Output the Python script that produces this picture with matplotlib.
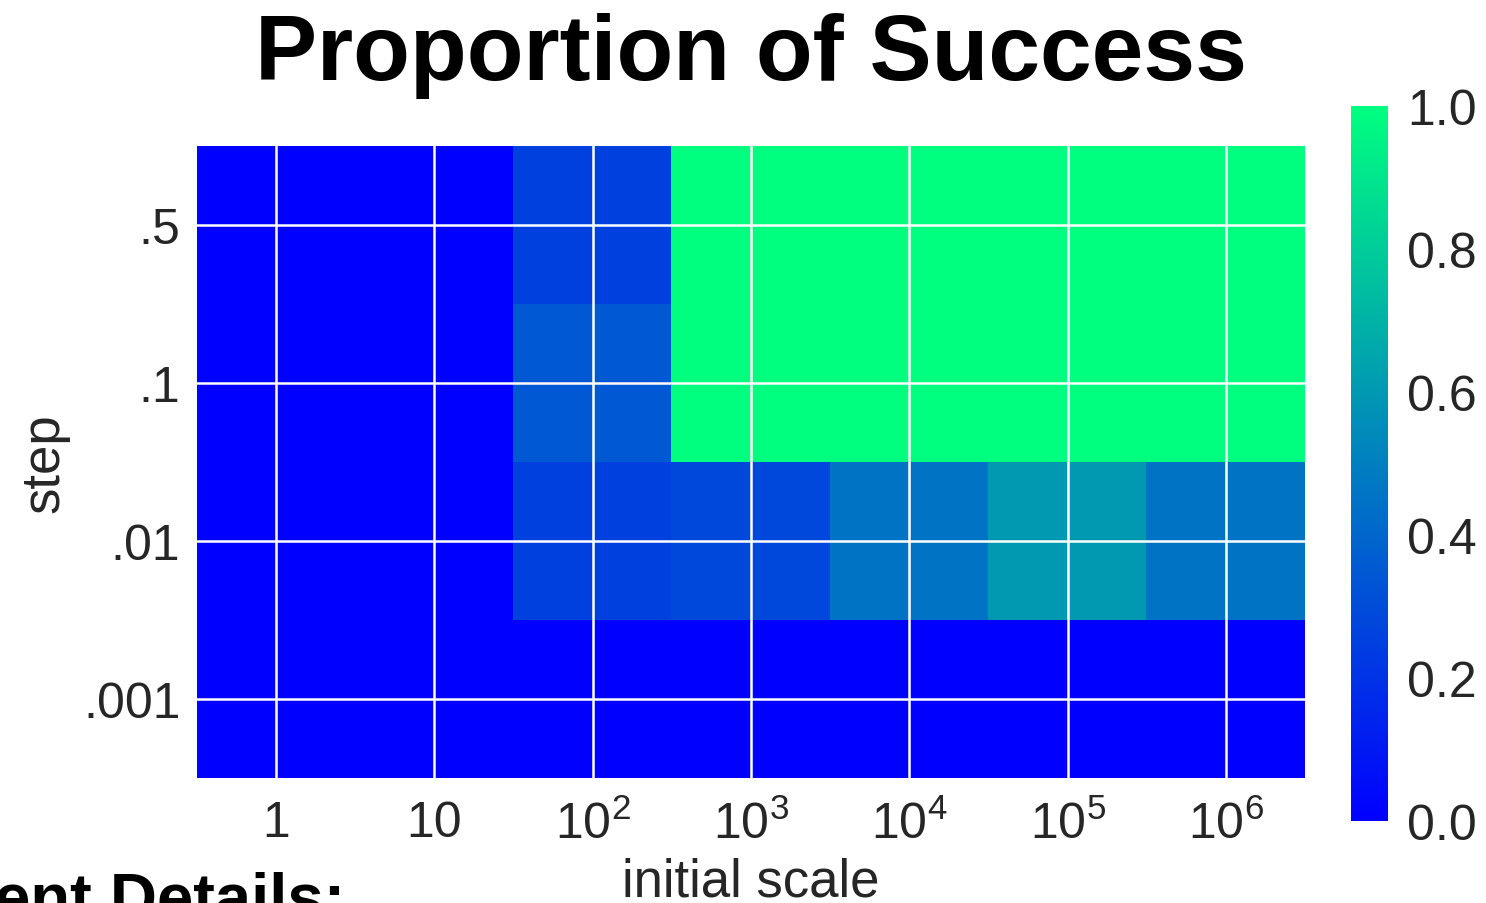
import numpy as np
import matplotlib
matplotlib.use("Agg")
import matplotlib.pyplot as plt

# success proportion for each (step, initial scale) pair
steps = [".5", ".1", ".01", ".001"]
scale_exponents = [0, 1, 2, 3, 4, 5, 6]
scale_labels = ["1", "10", "$10^2$", "$10^3$", "$10^4$", "$10^5$", "$10^6$"]
success_step_05 = [0.0, 0.0, 0.25, 1.0, 1.0, 1.0, 1.0]
success_step_01 = [0.0, 0.0, 0.35, 1.0, 1.0, 1.0, 1.0]
success_step_001 = [0.0, 0.0, 0.25, 0.28, 0.45, 0.6, 0.45]
success_step_0001 = [0.0, 0.0, 0.0, 0.0, 0.0, 0.0, 0.0]

plt.rcParams["font.family"] = ["Liberation Sans", "DejaVu Sans"]
plt.rcParams["mathtext.fontset"] = "custom"
plt.rcParams["mathtext.rm"] = "Liberation Sans"
plt.rcParams["mathtext.it"] = "Liberation Sans"
plt.rcParams["mathtext.default"] = "regular"

grid = np.array([success_step_05, success_step_01, success_step_001, success_step_0001])

fig = plt.figure(figsize=(14.86, 9.04), dpi=100)
ax = fig.add_axes([0.1326, 0.1383, 0.7456, 0.6991])
cax = fig.add_axes([0.9091, 0.0907, 0.0249, 0.7909])

n_rows = len(steps)
im = ax.imshow(grid, cmap="winter", vmin=0, vmax=1, aspect="auto",
               interpolation="nearest", origin="upper",
               extent=(scale_exponents[0] - 0.5, scale_exponents[-1] + 0.5,
                       -0.5, n_rows - 0.5))

ax.set_xticks(scale_exponents)
ax.set_xticklabels(scale_labels)
ax.set_yticks(np.arange(n_rows)[::-1])
ax.set_yticklabels(steps)
ax.set_axisbelow(False)
ax.grid(True, color="white", linewidth=1.8)
ax.tick_params(length=0, labelsize=36, labelcolor="#262626", pad=12)
ax.tick_params(axis="x", pad=16)
for s in ax.spines.values():
    s.set_visible(False)

ax.set_xlabel("initial scale", fontsize=38, color="#262626", labelpad=6)
ax.set_ylabel("step", fontsize=38, color="#262626", labelpad=10)
ax.set_title("Proportion of Success", fontsize=67, fontweight="bold", pad=48)

cb = fig.colorbar(im, cax=cax)
cb.outline.set_visible(False)
cb.set_ticks([0.0, 0.2, 0.4, 0.6, 0.8, 1.0])
cb.ax.tick_params(length=0, labelsize=36, labelcolor="#262626", pad=14)

fig.text(-263 / 1486, 1 - 919 / 904, "Experiment Details:", fontsize=47,
         fontweight="bold", ha="left", va="baseline")

fig.savefig("out.png", dpi=100)
